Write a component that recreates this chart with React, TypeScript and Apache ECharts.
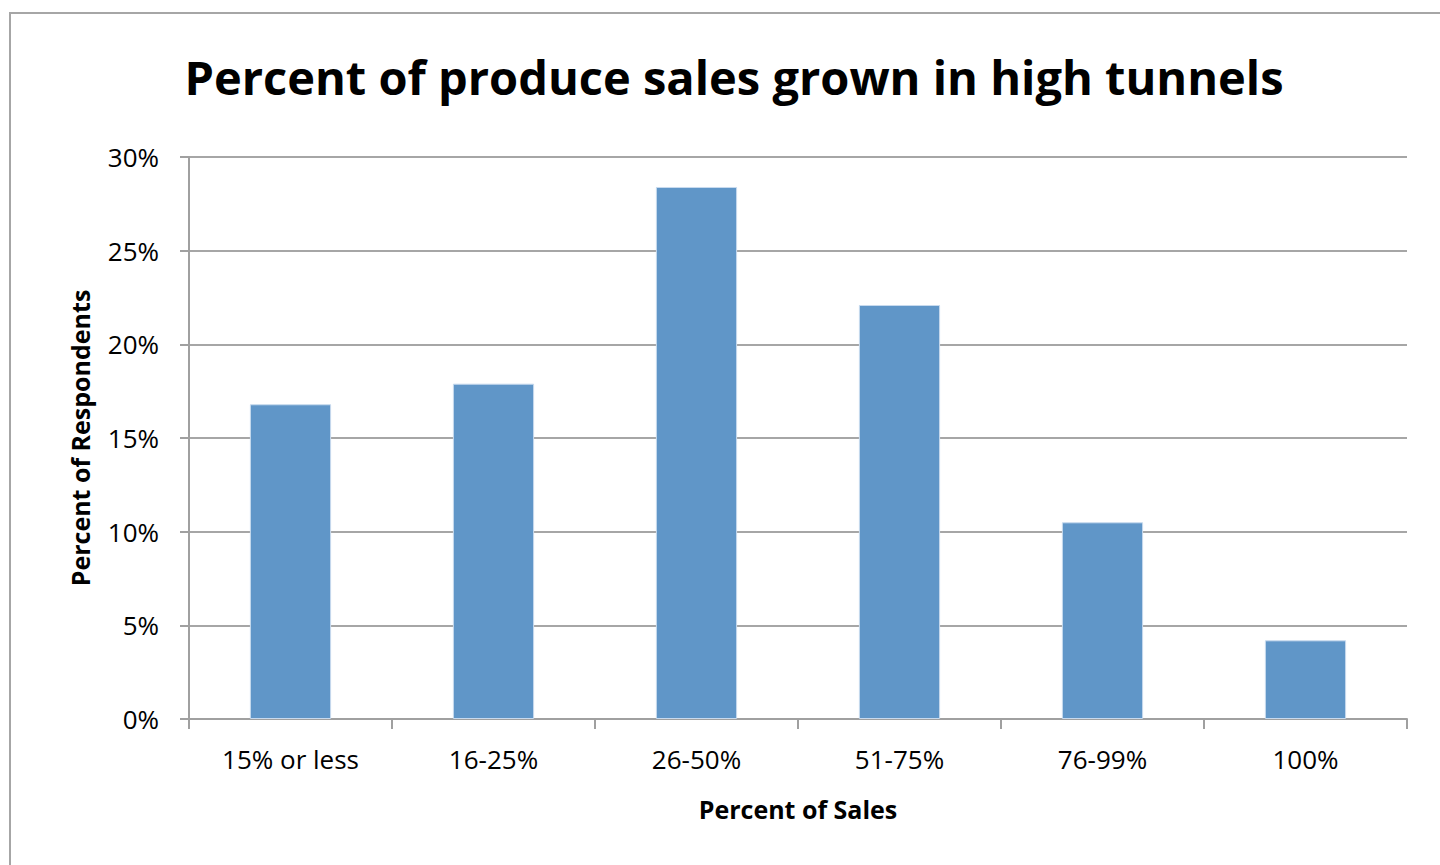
import React, { useEffect, useRef } from "react";
import * as echarts from "echarts";

const categories = ["15% or less", "16-25%", "26-50%", "51-75%", "76-99%", "100%"];
const respondents = [16.8, 17.9, 28.4, 22.1, 10.5, 4.2];
const yTicks = [0, 5, 10, 15, 20, 25, 30];

const FONT = "'Open Sans', 'Noto Sans', sans-serif";

export default function App() {
  const ref = useRef<HTMLDivElement>(null);
  useEffect(() => {
    document.body.style.margin = "0";
    const chart = echarts.init(ref.current!, null, { renderer: "svg" });
    chart.setOption({
      animation: false,
      backgroundColor: "#ffffff",
      textStyle: { fontFamily: FONT },
      title: {
        text: "Percent of produce sales grown in high tunnels",
        left: 729,
        textAlign: "center",
        top: 48,
        textStyle: { fontFamily: FONT, fontWeight: "bold", fontSize: 47, color: "#000000" },
      },
      graphic: [
        {
          type: "rect",
          shape: { x: 10, y: 13, width: 1460, height: 900 },
          style: { fill: "none", stroke: "#a6a6a6", lineWidth: 2 },
          silent: true,
        },
      ],
      grid: { left: 189, right: 33, top: 157, bottom: 146 },
      xAxis: {
        type: "category",
        data: categories,
        name: "Percent of Sales",
        nameLocation: "middle",
        nameGap: 77,
        nameTextStyle: { fontFamily: FONT, fontWeight: "bold", fontSize: 25, color: "#000" },
        axisLine: { lineStyle: { color: "#a0a0a0", width: 2 } },
        axisTick: { show: true, alignWithLabel: false, length: 10, lineStyle: { color: "#a0a0a0", width: 2 } },
        axisLabel: { fontFamily: FONT, fontSize: 26, color: "#000", margin: 27 },
      },
      yAxis: {
        type: "value",
        min: 0,
        max: 30,
        interval: 5,
        name: "Percent of Respondents",
        nameLocation: "middle",
        nameGap: 97,
        nameTextStyle: { fontFamily: FONT, fontWeight: "bold", fontSize: 25, color: "#000" },
        axisLine: { show: true, lineStyle: { color: "#a0a0a0", width: 2 } },
        axisTick: { show: true, length: 9, lineStyle: { color: "#a0a0a0", width: 2 } },
        splitLine: { show: true, lineStyle: { color: "#a6a6a6", width: 2 } },
        axisLabel: {
          fontFamily: FONT,
          fontSize: 26,
          color: "#000",
          margin: 30,
          formatter: (v: number) => (yTicks.includes(v) ? `${v}%` : ""),
        },
      },
      series: [
        {
          type: "bar",
          data: respondents,
          barWidth: "40%",
          itemStyle: { color: "#6096c8", borderColor: "#c8daee", borderWidth: 1 },
        },
      ],
    });
    return () => chart.dispose();
  }, []);
  return <div ref={ref} style={{ width: 1440, height: 865 }} />;
}
